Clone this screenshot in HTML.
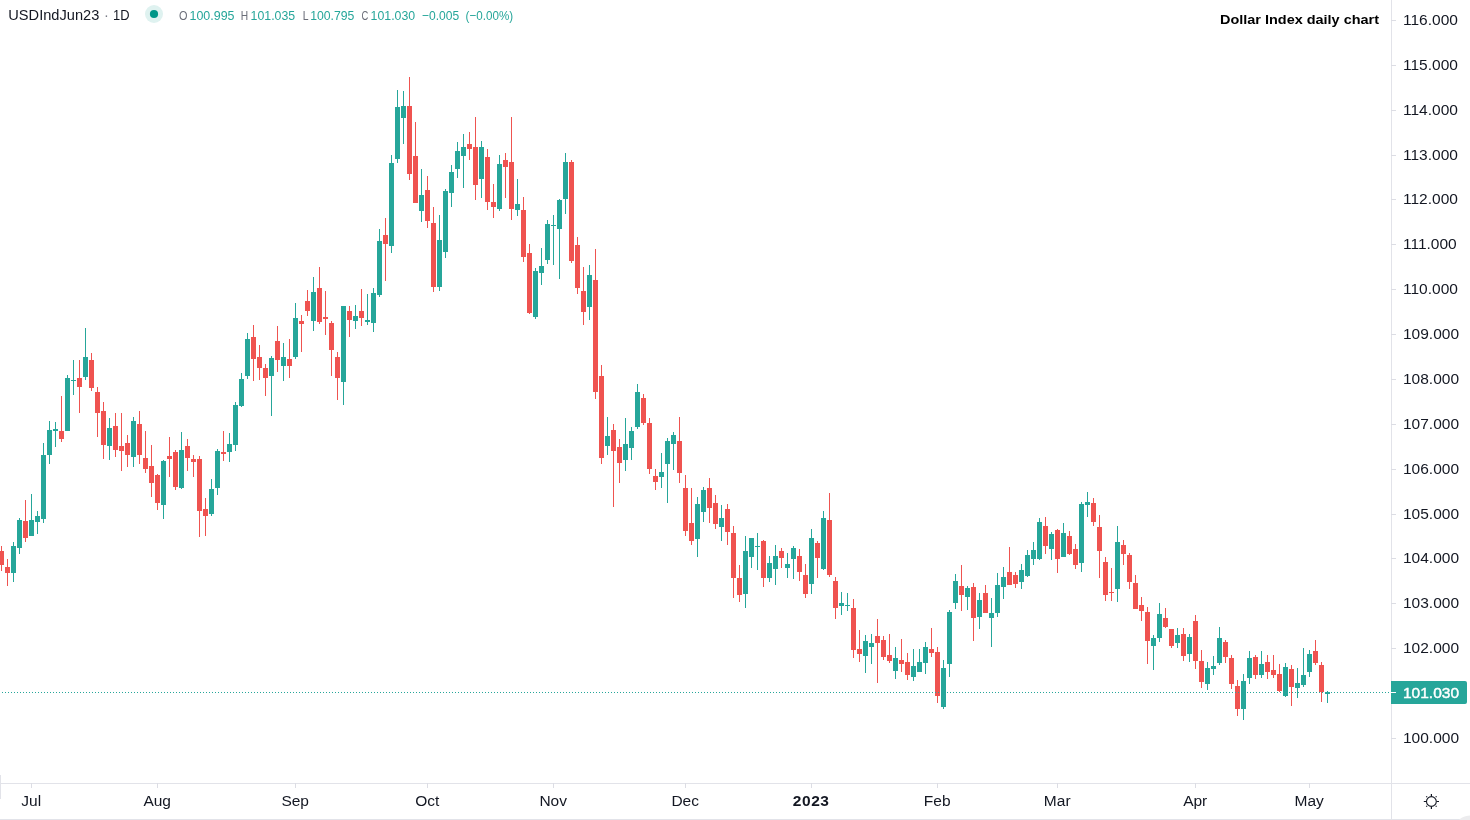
<!DOCTYPE html>
<html lang="en"><head><meta charset="utf-8"><title>USDIndJun23 1D - Dollar Index daily chart</title>
<style>
html,body{margin:0;padding:0;background:#fff;}
body{width:1470px;height:820px;overflow:hidden;font-family:"Liberation Sans",Arial,sans-serif;}
svg{display:block;}
svg text{font-family:"Liberation Sans",Arial,sans-serif;}
</style></head><body>
<svg width="1470" height="820" viewBox="0 0 1470 820">
<rect width="1470" height="820" fill="#ffffff"/>
<g shape-rendering="crispEdges">
<path fill="#26a69a" d="M13 542h1v40h-1zM19 518h1v36h-1zM31 494h1v42h-1zM37 511h1v23h-1zM43 443h1v80h-1zM49 421h1v43h-1zM55 422h1v25h-1zM67 375h1v56h-1zM73 360h1v35h-1zM85 328h1v52h-1zM109 418h1v42h-1zM133 417h1v50h-1zM163 460h1v59h-1zM181 432h1v57h-1zM211 479h1v37h-1zM217 449h1v46h-1zM229 433h1v29h-1zM235 402h1v49h-1zM241 373h1v34h-1zM247 333h1v46h-1zM271 356h1v60h-1zM283 343h1v38h-1zM295 303h1v56h-1zM313 277h1v54h-1zM343 306h1v99h-1zM355 305h1v24h-1zM367 294h1v31h-1zM373 288h1v44h-1zM379 229h1v68h-1zM391 155h1v98h-1zM397 90h1v73h-1zM403 91h1v53h-1zM421 169h1v53h-1zM439 215h1v76h-1zM445 189h1v69h-1zM451 165h1v42h-1zM457 142h1v36h-1zM463 134h1v54h-1zM481 141h1v57h-1zM499 155h1v56h-1zM517 179h1v37h-1zM535 268h1v51h-1zM541 248h1v37h-1zM547 220h1v44h-1zM553 215h1v50h-1zM559 199h1v80h-1zM565 153h1v61h-1zM589 265h1v55h-1zM607 417h1v38h-1zM625 418h1v53h-1zM631 427h1v33h-1zM637 384h1v45h-1zM661 453h1v35h-1zM667 438h1v65h-1zM673 432h1v38h-1zM697 497h1v60h-1zM703 487h1v35h-1zM721 505h1v36h-1zM745 536h1v72h-1zM751 538h1v30h-1zM757 533h1v37h-1zM769 556h1v26h-1zM775 545h1v40h-1zM787 553h1v25h-1zM793 546h1v33h-1zM811 529h1v65h-1zM823 511h1v59h-1zM841 592h1v23h-1zM847 593h1v18h-1zM865 635h1v38h-1zM871 634h1v30h-1zM895 647h1v32h-1zM913 649h1v32h-1zM919 649h1v23h-1zM925 642h1v32h-1zM943 660h1v49h-1zM949 610h1v67h-1zM955 574h1v35h-1zM967 586h1v24h-1zM979 593h1v36h-1zM991 598h1v49h-1zM997 573h1v44h-1zM1003 567h1v32h-1zM1021 564h1v25h-1zM1027 550h1v27h-1zM1033 542h1v23h-1zM1039 518h1v42h-1zM1051 532h1v28h-1zM1063 523h1v34h-1zM1081 502h1v70h-1zM1087 492h1v25h-1zM1117 526h1v76h-1zM1153 635h1v35h-1zM1159 603h1v39h-1zM1177 628h1v20h-1zM1189 634h1v28h-1zM1207 662h1v28h-1zM1213 656h1v19h-1zM1219 627h1v38h-1zM1243 674h1v46h-1zM1249 651h1v33h-1zM1261 651h1v27h-1zM1285 663h1v34h-1zM1297 668h1v30h-1zM1303 648h1v39h-1zM1309 650h1v27h-1zM1327 691h1v12h-1zM11 546h5v27h-5zM17 520h5v28h-5zM29 520h5v16h-5zM35 516h5v6h-5zM41 455h5v64h-5zM47 430h5v25h-5zM53 429h5v2h-5zM65 378h5v53h-5zM71 380h5v1h-5zM83 357h5v20h-5zM107 428h5v18h-5zM131 421h5v36h-5zM161 461h5v44h-5zM179 450h5v38h-5zM209 489h5v25h-5zM215 451h5v37h-5zM227 444h5v8h-5zM233 405h5v40h-5zM239 379h5v27h-5zM245 339h5v37h-5zM269 358h5v18h-5zM281 357h5v9h-5zM293 318h5v39h-5zM311 292h5v29h-5zM341 306h5v76h-5zM353 316h5v5h-5zM365 320h5v2h-5zM371 293h5v30h-5zM377 241h5v54h-5zM389 163h5v83h-5zM395 107h5v52h-5zM401 106h5v12h-5zM419 195h5v16h-5zM437 240h5v47h-5zM443 191h5v61h-5zM449 172h5v21h-5zM455 151h5v18h-5zM461 147h5v9h-5zM479 147h5v32h-5zM497 164h5v45h-5zM515 204h5v6h-5zM533 271h5v46h-5zM539 266h5v7h-5zM545 224h5v36h-5zM551 225h5v1h-5zM557 200h5v29h-5zM563 162h5v37h-5zM587 275h5v32h-5zM605 436h5v10h-5zM623 444h5v16h-5zM629 431h5v17h-5zM635 392h5v35h-5zM659 472h5v5h-5zM665 441h5v23h-5zM671 435h5v9h-5zM695 504h5v35h-5zM701 490h5v22h-5zM719 518h5v9h-5zM743 551h5v43h-5zM749 538h5v19h-5zM755 546h5v1h-5zM767 563h5v15h-5zM773 556h5v13h-5zM785 564h5v4h-5zM791 548h5v11h-5zM809 538h5v46h-5zM821 518h5v51h-5zM839 603h5v3h-5zM845 605h5v1h-5zM863 641h5v15h-5zM869 643h5v4h-5zM893 658h5v13h-5zM911 666h5v11h-5zM917 662h5v10h-5zM923 647h5v16h-5zM941 668h5v39h-5zM947 612h5v52h-5zM953 581h5v22h-5zM965 588h5v9h-5zM977 600h5v17h-5zM989 613h5v5h-5zM995 585h5v28h-5zM1001 577h5v10h-5zM1019 570h5v12h-5zM1025 555h5v21h-5zM1031 550h5v9h-5zM1037 522h5v37h-5zM1049 534h5v15h-5zM1061 533h5v24h-5zM1079 504h5v59h-5zM1085 502h5v3h-5zM1115 542h5v47h-5zM1151 638h5v8h-5zM1157 614h5v24h-5zM1175 635h5v8h-5zM1187 637h5v17h-5zM1205 668h5v16h-5zM1211 666h5v3h-5zM1217 638h5v25h-5zM1241 681h5v28h-5zM1247 658h5v20h-5zM1259 664h5v11h-5zM1283 667h5v29h-5zM1295 683h5v5h-5zM1301 675h5v10h-5zM1307 654h5v18h-5zM1325 692h5v2h-5z"/>
<path fill="#ef5350" d="M1 546h1v25h-1zM7 559h1v27h-1zM25 500h1v42h-1zM61 396h1v46h-1zM79 360h1v53h-1zM91 353h1v38h-1zM97 387h1v50h-1zM103 402h1v57h-1zM115 413h1v44h-1zM121 413h1v58h-1zM127 435h1v32h-1zM139 411h1v53h-1zM145 431h1v42h-1zM151 445h1v52h-1zM157 474h1v36h-1zM169 437h1v40h-1zM175 450h1v40h-1zM187 439h1v32h-1zM193 455h1v22h-1zM199 456h1v81h-1zM205 498h1v38h-1zM223 431h1v30h-1zM253 325h1v56h-1zM259 345h1v35h-1zM265 364h1v32h-1zM277 326h1v46h-1zM289 339h1v39h-1zM301 315h1v37h-1zM307 290h1v26h-1zM319 267h1v57h-1zM325 291h1v44h-1zM331 321h1v55h-1zM337 352h1v48h-1zM349 306h1v31h-1zM361 289h1v37h-1zM385 218h1v63h-1zM409 77h1v103h-1zM415 122h1v81h-1zM427 176h1v52h-1zM433 207h1v85h-1zM469 132h1v28h-1zM475 117h1v83h-1zM487 149h1v61h-1zM493 184h1v34h-1zM505 153h1v45h-1zM511 117h1v103h-1zM523 197h1v65h-1zM529 244h1v70h-1zM571 160h1v103h-1zM577 237h1v57h-1zM583 267h1v58h-1zM595 249h1v150h-1zM601 365h1v99h-1zM613 424h1v83h-1zM619 439h1v44h-1zM643 394h1v31h-1zM649 418h1v56h-1zM655 469h1v21h-1zM679 417h1v66h-1zM685 475h1v61h-1zM691 488h1v57h-1zM709 478h1v45h-1zM715 495h1v34h-1zM727 504h1v41h-1zM733 526h1v72h-1zM739 565h1v37h-1zM763 540h1v47h-1zM781 548h1v20h-1zM799 549h1v32h-1zM805 564h1v34h-1zM817 541h1v37h-1zM829 493h1v84h-1zM835 577h1v42h-1zM853 599h1v59h-1zM859 630h1v32h-1zM877 619h1v64h-1zM883 636h1v24h-1zM889 634h1v29h-1zM901 639h1v33h-1zM907 653h1v27h-1zM931 628h1v29h-1zM937 647h1v56h-1zM961 565h1v46h-1zM973 583h1v58h-1zM985 585h1v28h-1zM1009 547h1v38h-1zM1015 572h1v16h-1zM1045 517h1v37h-1zM1057 529h1v44h-1zM1069 531h1v24h-1zM1075 544h1v25h-1zM1093 498h1v28h-1zM1099 515h1v63h-1zM1105 557h1v44h-1zM1111 568h1v33h-1zM1123 540h1v25h-1zM1129 553h1v36h-1zM1135 575h1v34h-1zM1141 597h1v24h-1zM1147 607h1v57h-1zM1165 608h1v20h-1zM1171 629h1v19h-1zM1183 628h1v33h-1zM1195 615h1v54h-1zM1201 650h1v38h-1zM1225 640h1v23h-1zM1231 655h1v34h-1zM1237 680h1v36h-1zM1255 655h1v24h-1zM1267 655h1v24h-1zM1273 655h1v23h-1zM1279 664h1v28h-1zM1291 665h1v41h-1zM1315 640h1v25h-1zM1321 662h1v40h-1zM-1 551h5v14h-5zM5 567h5v6h-5zM23 521h5v17h-5zM59 431h5v8h-5zM77 378h5v9h-5zM89 360h5v28h-5zM95 392h5v21h-5zM101 411h5v34h-5zM113 426h5v24h-5zM119 446h5v5h-5zM125 443h5v12h-5zM137 424h5v31h-5zM143 458h5v11h-5zM149 466h5v17h-5zM155 475h5v28h-5zM167 456h5v3h-5zM173 452h5v35h-5zM185 446h5v12h-5zM191 459h5v3h-5zM197 459h5v52h-5zM203 509h5v7h-5zM221 452h5v2h-5zM251 337h5v22h-5zM257 357h5v11h-5zM263 368h5v10h-5zM275 341h5v19h-5zM287 359h5v7h-5zM299 321h5v3h-5zM305 301h5v10h-5zM317 288h5v34h-5zM323 317h5v2h-5zM329 323h5v27h-5zM335 357h5v21h-5zM347 311h5v9h-5zM359 311h5v7h-5zM383 235h5v9h-5zM407 106h5v68h-5zM413 156h5v47h-5zM425 190h5v31h-5zM431 223h5v64h-5zM467 144h5v5h-5zM473 147h5v38h-5zM485 157h5v45h-5zM491 202h5v5h-5zM503 160h5v7h-5zM509 162h5v47h-5zM521 210h5v47h-5zM527 253h5v60h-5zM569 162h5v99h-5zM575 245h5v43h-5zM581 291h5v21h-5zM593 280h5v112h-5zM599 376h5v82h-5zM611 430h5v21h-5zM617 447h5v16h-5zM641 398h5v25h-5zM647 423h5v46h-5zM653 476h5v6h-5zM677 441h5v32h-5zM683 488h5v43h-5zM689 523h5v18h-5zM707 488h5v20h-5zM713 503h5v21h-5zM725 509h5v23h-5zM731 533h5v45h-5zM737 578h5v17h-5zM761 541h5v37h-5zM779 551h5v7h-5zM797 556h5v16h-5zM803 575h5v19h-5zM815 543h5v15h-5zM827 520h5v55h-5zM833 581h5v27h-5zM851 608h5v42h-5zM857 649h5v5h-5zM875 636h5v7h-5zM881 640h5v17h-5zM887 655h5v6h-5zM899 660h5v4h-5zM905 662h5v13h-5zM929 649h5v4h-5zM935 652h5v44h-5zM959 586h5v9h-5zM971 587h5v31h-5zM983 593h5v20h-5zM1007 572h5v13h-5zM1013 575h5v9h-5zM1043 526h5v20h-5zM1055 530h5v29h-5zM1067 536h5v18h-5zM1073 549h5v16h-5zM1091 503h5v19h-5zM1097 527h5v24h-5zM1103 562h5v33h-5zM1109 592h5v1h-5zM1121 545h5v9h-5zM1127 555h5v27h-5zM1133 583h5v26h-5zM1139 605h5v6h-5zM1145 612h5v29h-5zM1163 618h5v9h-5zM1169 629h5v17h-5zM1181 634h5v22h-5zM1193 621h5v40h-5zM1199 661h5v21h-5zM1223 642h5v15h-5zM1229 658h5v26h-5zM1235 686h5v23h-5zM1253 657h5v18h-5zM1265 662h5v10h-5zM1271 670h5v5h-5zM1277 674h5v17h-5zM1289 669h5v18h-5zM1313 651h5v12h-5zM1319 665h5v27h-5z"/>

<path d="M2 692.5H1391" stroke="#26a69a" stroke-width="1" stroke-dasharray="1 2"/>
<path fill="#e2e3e9" d="M1391 0h1v820h-1zM0 783h1470v1h-1470zM0 819h1470v1h-1470zM0 775h1v24h-1z"/>
<path fill="#dcdde4" d="M1391 738h5v1h-5zM1391 648h5v1h-5zM1391 603h5v1h-5zM1391 558h5v1h-5zM1391 514h5v1h-5zM1391 469h5v1h-5zM1391 424h5v1h-5zM1391 379h5v1h-5zM1391 334h5v1h-5zM1391 289h5v1h-5zM1391 244h5v1h-5zM1391 199h5v1h-5zM1391 155h5v1h-5zM1391 110h5v1h-5zM1391 65h5v1h-5zM1391 20h5v1h-5zM31 783h1v5h-1zM157 783h1v5h-1zM295 783h1v5h-1zM427 783h1v5h-1zM553 783h1v5h-1zM685 783h1v5h-1zM811 783h1v5h-1zM937 783h1v5h-1zM1057 783h1v5h-1zM1195 783h1v5h-1zM1309 783h1v5h-1z"/>
<path fill="#26a69a" d="M1391 681h74a2 2 0 0 1 2 2v19a2 2 0 0 1-2 2h-74z" shape-rendering="auto"/>
<path fill="#ffffff" d="M1391 692h5v1h-5z"/>
</g>
<path d="M1470 815.5 Q1462 816 1459 820 L1470 820z" fill="#ececee"/>
<g font-size="15.5" fill="#131722">
<text x="1403" y="743.1">100.000</text>
<text x="1403" y="653.1">102.000</text>
<text x="1403" y="608.1">103.000</text>
<text x="1403" y="563.1">104.000</text>
<text x="1403" y="519.1">105.000</text>
<text x="1403" y="474.1">106.000</text>
<text x="1403" y="429.1">107.000</text>
<text x="1403" y="384.1">108.000</text>
<text x="1403" y="339.1">109.000</text>
<text x="1403" y="294.1">110.000</text>
<text x="1403" y="249.1">111.000</text>
<text x="1403" y="204.1">112.000</text>
<text x="1403" y="160.1">113.000</text>
<text x="1403" y="115.1">114.000</text>
<text x="1403" y="70.1">115.000</text>
<text x="1403" y="25.1">116.000</text>
</g>
<text x="1403" y="698" font-size="15.5" fill="#ffffff" stroke="#ffffff" stroke-width="0.45">101.030</text>
<g font-size="15.5" fill="#131722">
<text x="31.2" y="805.6" text-anchor="middle">Jul</text>
<text x="157.2" y="805.6" text-anchor="middle">Aug</text>
<text x="295.2" y="805.6" text-anchor="middle">Sep</text>
<text x="427.2" y="805.6" text-anchor="middle">Oct</text>
<text x="553.2" y="805.6" text-anchor="middle">Nov</text>
<text x="685.2" y="805.6" text-anchor="middle">Dec</text>
<text x="811.2" y="805.6" text-anchor="middle" font-weight="bold" letter-spacing="0.55">2023</text>
<text x="937.2" y="805.6" text-anchor="middle">Feb</text>
<text x="1057.2" y="805.6" text-anchor="middle">Mar</text>
<text x="1195.2" y="805.6" text-anchor="middle">Apr</text>
<text x="1309.2" y="805.6" text-anchor="middle">May</text>
</g>
<circle cx="1431.4" cy="801.5" r="4.9" fill="none" stroke="#131722" stroke-width="1.1"/><path d="M1436.80 801.50L1439.00 801.50M1435.71 805.81L1436.56 806.66M1431.40 806.90L1431.40 809.10M1427.09 805.81L1426.24 806.66M1426.00 801.50L1423.80 801.50M1427.09 797.19L1426.24 796.34M1431.40 796.10L1431.40 793.90M1435.71 797.19L1436.56 796.34" stroke="#131722" stroke-width="1.2" fill="none"/>
<g font-size="14.5" fill="#131722">
<text x="8.3" y="19.9" textLength="91" lengthAdjust="spacingAndGlyphs">USDIndJun23</text>
<text x="104" y="19.9" fill="#787b86">·</text>
<text x="113" y="19.9" textLength="16.5" lengthAdjust="spacingAndGlyphs">1D</text>
</g>
<circle cx="154" cy="14" r="9" fill="#dff2f0"/>
<circle cx="154" cy="14" r="4.1" fill="#009688"/>
<g font-size="13" fill="#26a69a">
<text x="179" y="20" fill="#6a6d78" textLength="8.5" lengthAdjust="spacingAndGlyphs">O</text>
<text x="189.5" y="20" textLength="45" lengthAdjust="spacingAndGlyphs">100.995</text>
<text x="240.8" y="20" fill="#6a6d78" textLength="7.4" lengthAdjust="spacingAndGlyphs">H</text>
<text x="250.6" y="20" textLength="44.5" lengthAdjust="spacingAndGlyphs">101.035</text>
<text x="302.8" y="20" fill="#6a6d78" textLength="5.8" lengthAdjust="spacingAndGlyphs">L</text>
<text x="310.2" y="20" textLength="44.2" lengthAdjust="spacingAndGlyphs">100.795</text>
<text x="361.5" y="20" fill="#6a6d78" textLength="6.8" lengthAdjust="spacingAndGlyphs">C</text>
<text x="370.6" y="20" textLength="44.5" lengthAdjust="spacingAndGlyphs">101.030</text>
<text x="422" y="20" textLength="37.2" lengthAdjust="spacingAndGlyphs">−0.005</text>
<text x="465.6" y="20" textLength="47.5" lengthAdjust="spacingAndGlyphs">(−0.00%)</text>
</g>
<text x="1220" y="24.4" font-size="13" font-weight="bold" fill="#000000" textLength="159" lengthAdjust="spacingAndGlyphs">Dollar Index daily chart</text>
</svg>
</body></html>
